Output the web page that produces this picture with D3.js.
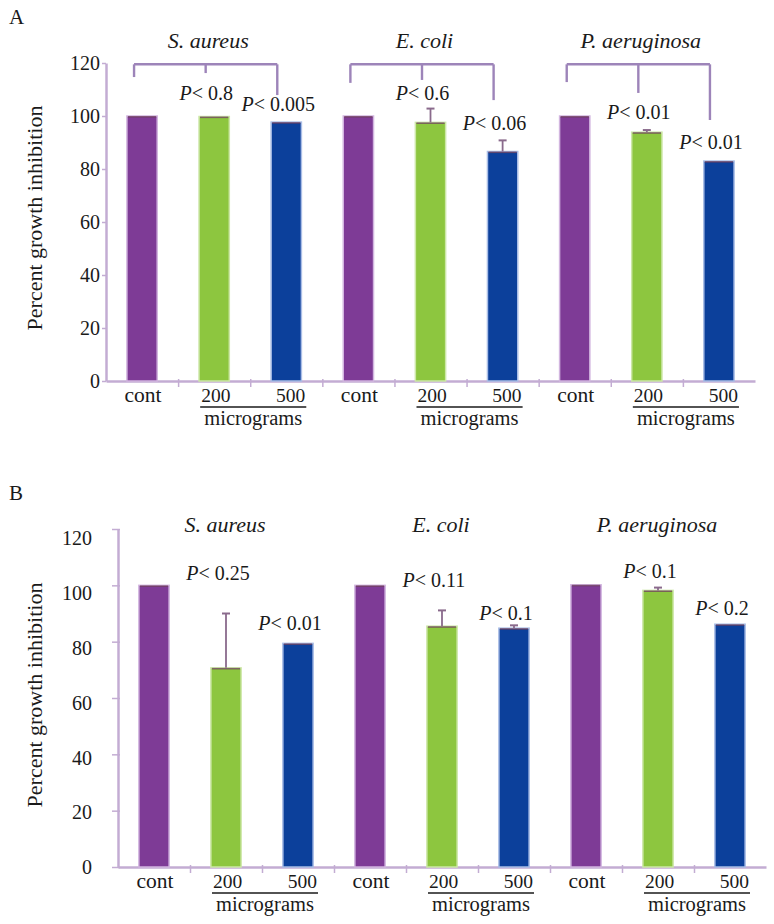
<!DOCTYPE html>
<html><head><meta charset="utf-8">
<script src="https://cdn.jsdelivr.net/npm/d3@7"></script>
<style>
body{margin:0;background:#fff}
svg{display:block}
svg text{font-family:"Liberation Serif","DejaVu Serif","Noto Serif",serif !important;fill:#1a1a1a}
</style>
</head><body>
<svg id="chart" width="774" height="924" font-family="Liberation Serif, DejaVu Serif, serif"></svg>
<script>
// ---------- data ----------
const groups = ["S. aureus", "E. coli", "P. aeruginosa"];
const doses = ["cont", "200", "500"];
const yTicks = [0, 20, 40, 60, 80, 100, 120];
const yTitle = "Percent growth inhibition";
const unitLabel = "micrograms";
const panelLetters = ["A", "B"];

// Panel A (bars in order: group x dose)
const valuesA = [100, 99.8, 97.7, 100, 97.6, 86.6, 100, 93.9, 83.0];
const errorsA = [0, 0.4, 0.3, 0, 5.2, 4.2, 0, 0.8, 0.3];
const pLabelsA = ["0.8", "0.005", "0.6", "0.06", "0.01", "0.01"];
const pLevelsA = [106, 101.9, 106, 94.7, 98.9, 87.5];
const titleLevelA = 125.7;
const bracketTopA = 119.5;
const bracketLegsA = [[114.7, 116.2, 107.9], [112.5, 113.6, 106.0], [112.8, 108.7, 98.5]];

// Panel B
const valuesB = [100, 70.7, 79.4, 100, 85.5, 84.8, 100.2, 98.2, 86.2];
const errorsB = [0, 19.3, 0.4, 0, 5.6, 1.0, 0, 1.0, 0.3];
const pLabelsB = ["0.25", "0.01", "0.11", "0.1", "0.1", "0.2"];
const pLevelsB = [101.8, 84.0, 99.3, 87.6, 102.5, 89.4];
const titleLevelB = 119.1;

// ---------- drawing ----------
const FONT = "Liberation Serif, DejaVu Serif, serif";
const svg = d3.select("#chart");
const barColors = ["#7e3b96", "#8dc63f", "#0c409b"];
const barHalo = ["#d2b5df", "#cde7a8", "#a9bde6"];
const axisColor = "#c3acd3";
const bracketColor = "#9d84b9";
const errColor = "#8a6a8c";

function txt(sel) {
  return sel.append("text").attr("font-family", FONT).attr("fill", "#1a1a1a");
}

function drawPanel(cfg, d) {
  const g = svg.append("g");
  const keys = [];
  groups.forEach(gr => doses.forEach(ds => keys.push(gr + "|" + ds)));
  const x = d3.scaleBand().domain(keys).range([cfg.x0, cfg.x1]).paddingInner(0.58).paddingOuter(0.29);
  const y = d3.scaleLinear().domain([0, 120]).range([cfg.y0, cfg.y1]);
  // tick labels in the original sit on a slightly compressed scale (panel B)
  const yLab = d3.scaleLinear().domain([0, 120]).range([cfg.y0, cfg.y0 - (cfg.y0 - cfg.y1) * cfg.labelScale]);
  const cx = k => x(k) + x.bandwidth() / 2;

  // y axis
  const ya = g.append("g").attr("transform", `translate(${cfg.x0},0)`)
    .call(d3.axisLeft(y).tickValues(yTicks).tickSize(cfg.tickLen).tickSizeOuter(0).tickPadding(cfg.tickPad));
  ya.attr("font-family", FONT);
  ya.select(".domain").attr("stroke", axisColor).attr("stroke-width", 2.5);
  ya.selectAll(".tick line").attr("stroke", axisColor).attr("stroke-width", 1.5).attr("x2", -cfg.tickLen).attr("x1", cfg.tickIn);
  ya.selectAll(".tick text").attr("font-size", 20).attr("font-family", FONT).attr("fill", "#1a1a1a")
    .attr("dy", v => (20 * 0.34 + yLab(v) - y(v)) + "px");

  // x axis (ticks at category boundaries)
  const xb = d3.scaleLinear().domain([0, keys.length]).range([cfg.x0, cfg.x1]);
  const xa = g.append("g").attr("transform", `translate(0,${cfg.y0})`)
    .call(d3.axisBottom(xb).tickValues(d3.range(1, keys.length)).tickSize(6).tickSizeOuter(0).tickFormat(""));
  xa.select(".domain").attr("stroke", axisColor).attr("stroke-width", 2.5);
  xa.selectAll(".tick line").attr("stroke", axisColor).attr("stroke-width", 1.5).attr("y1", -2);

  // bars
  const vals = keys.map((k, i) => ({k, v: d.values[i], e: d.errors[i], dose: i % 3, grp: Math.floor(i / 3)}));
  g.selectAll("rect.bar").data(vals).join("rect").attr("class", "bar")
    .attr("x", o => x(o.k)).attr("width", x.bandwidth())
    .attr("y", o => y(o.v)).attr("height", o => y(0) - y(o.v))
    .attr("fill", o => barColors[o.dose])
    .attr("stroke", o => barHalo[o.dose]).attr("stroke-width", 1.5);
  g.selectAll("line.top").data(vals).join("line").attr("class", "top")
    .attr("x1", o => x(o.k) + 1).attr("x2", o => x(o.k) + x.bandwidth() - 1)
    .attr("y1", o => y(o.v) + 0.8).attr("y2", o => y(o.v) + 0.8)
    .attr("stroke", "#6e3f5c").attr("stroke-width", 1.6).attr("opacity", 0.75);
  const ev = vals.filter(o => o.e > 0.6);
  g.selectAll("line.err").data(ev).join("line").attr("class", "err")
    .attr("x1", o => cx(o.k)).attr("x2", o => cx(o.k))
    .attr("y1", o => y(o.v)).attr("y2", o => y(o.v + o.e))
    .attr("stroke", errColor).attr("stroke-width", 1.8);
  g.selectAll("line.cap").data(ev).join("line").attr("class", "cap")
    .attr("x1", o => cx(o.k) - 4).attr("x2", o => cx(o.k) + 4)
    .attr("y1", o => y(o.v + o.e)).attr("y2", o => y(o.v + o.e))
    .attr("stroke", errColor).attr("stroke-width", 2);

  groups.forEach((gr, gi) => {
    const kc = gr + "|cont", k2 = gr + "|200", k5 = gr + "|500";
    txt(g).attr("x", cx(kc) + 1).attr("y", cfg.y0 + 21).attr("text-anchor", "middle")
      .attr("font-size", 21.5).text(doses[0]);
    const u0 = cx(k2) - 14, u1 = cx(k5) + 20;
    txt(g).attr("x", u0 + 1).attr("y", cfg.y0 + 21).attr("text-anchor", "start")
      .attr("font-size", 19.5).text(doses[1]);
    txt(g).attr("x", u1 - 1).attr("y", cfg.y0 + 21).attr("text-anchor", "end")
      .attr("font-size", 19.5).text(doses[2]);
    g.append("line").attr("x1", u0).attr("x2", u1).attr("y1", cfg.y0 + 26).attr("y2", cfg.y0 + 26)
      .attr("stroke", "#1a1a1a").attr("stroke-width", 1.3);
    txt(g).attr("x", (u0 + u1) / 2).attr("y", cfg.y0 + 44).attr("text-anchor", "middle")
      .attr("font-size", 20.5).text(unitLabel);

    txt(g).attr("x", cx(k2) + cfg.titleDx).attr("y", y(d.titleLevel)).attr("text-anchor", "middle")
      .attr("font-size", 22).attr("font-style", "italic").text(gr);

    [k2, k5].forEach((k, j) => {
      const idx = gi * 2 + j;
      const t = txt(g).attr("x", cx(k) - 8).attr("y", y(d.pLevels[idx]))
        .attr("text-anchor", "middle").attr("font-size", 20);
      t.append("tspan").attr("font-style", "italic").text("P");
      t.append("tspan").text("< " + d.pLabels[idx]);
    });

    if (d.bracketLegs) {
      const legs = d.bracketLegs[gi];
      const lx = cx(kc) - 8, rx = cx(k5) - 9, mx = (lx + rx) / 2;
      const top = y(d.bracketTop);
      const bg = g.append("g").attr("stroke", bracketColor).attr("stroke-width", 2.4).attr("fill", "none");
      bg.append("line").attr("x1", lx).attr("x2", rx).attr("y1", top).attr("y2", top);
      [[lx, legs[0]], [mx, legs[1]], [rx, legs[2]]].forEach(([px, lv]) => {
        bg.append("line").attr("x1", px).attr("x2", px).attr("y1", top).attr("y2", y(lv));
      });
    }
  });

  txt(g).attr("transform", `translate(${cfg.titleX},${(cfg.y0 + cfg.y1) / 2 + cfg.yTitleDy}) rotate(-90)`)
    .attr("text-anchor", "middle").attr("font-size", 22).text(yTitle);

  txt(g).attr("x", 9).attr("y", cfg.letterY).attr("font-size", 21).text(cfg.letter);
}

drawPanel({x0: 106, x1: 755, y0: 381, y1: 63, tickLen: 4, tickIn: 0, tickPad: 2, labelScale: 1,
  titleDx: -6, titleX: 42, yTitleDy: -4, letterY: 24, letter: panelLetters[0]},
  {values: valuesA, errors: errorsA, pLabels: pLabelsA, pLevels: pLevelsA, titleLevel: titleLevelA,
   bracketTop: bracketTopA, bracketLegs: bracketLegsA});

drawPanel({x0: 118, x1: 766, y0: 867, y1: 529, tickLen: 6, tickIn: 2, tickPad: 20, labelScale: 0.973,
  titleDx: -1, titleX: 42, yTitleDy: -3, letterY: 500, letter: panelLetters[1]},
  {values: valuesB, errors: errorsB, pLabels: pLabelsB, pLevels: pLevelsB, titleLevel: titleLevelB});
</script>
</body></html>
